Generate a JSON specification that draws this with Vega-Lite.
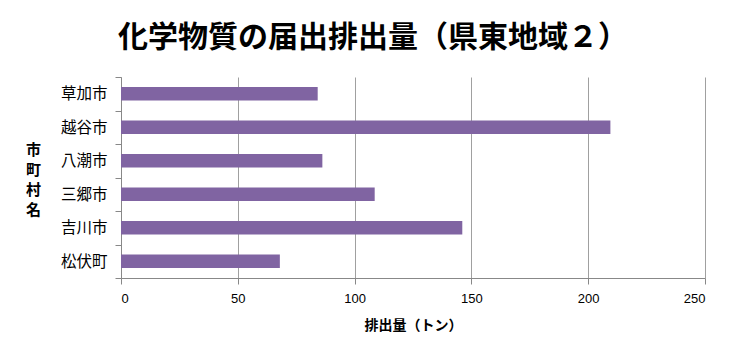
{
  "$schema": "https://vega.github.io/schema/vega-lite/v6.json",
  "width": 584,
  "height": 201,
  "autosize": {"type": "none"},
  "padding": {"left": 121, "top": 77, "right": 35, "bottom": 83},
  "background": "white",
  "title": {
    "text": "化学物質の届出排出量（県東地域２）",
    "font": "Noto Sans CJK JP",
    "fontSize": 30,
    "fontWeight": "bold",
    "color": "#000000",
    "anchor": "middle",
    "dx": -40,
    "offset": 17
  },
  "data": {
    "values": [
      {"city": "草加市", "amount": 84.2},
      {"city": "越谷市", "amount": 209.5},
      {"city": "八潮市", "amount": 86.2},
      {"city": "三郷市", "amount": 108.6},
      {"city": "吉川市", "amount": 146.1},
      {"city": "松伏町", "amount": 68.0}
    ]
  },
  "mark": {"type": "bar", "color": "#8064A2", "height": {"band": 0.4}},
  "encoding": {
    "y": {
      "field": "city",
      "type": "nominal",
      "sort": null,
      "scale": {"paddingInner": 0, "paddingOuter": 0},
      "axis": {
        "title": ["市", "町", "村", "名"],
        "titleAngle": 0,
        "titleFont": "Noto Sans CJK JP",
        "titleFontSize": 15,
        "titleFontWeight": "bold",
        "titleColor": "#000000",
        "titleLineHeight": 20,
        "titleAlign": "center",
        "titleBaseline": "middle",
        "titleX": -88,
        "titleY": 72,
        "labelFont": "Noto Sans CJK JP",
        "labelFontSize": 15.5,
        "labelColor": "#000000",
        "labelPadding": 8,
        "domainColor": "#888888",
        "tickColor": "#888888",
        "tickSize": 6,
        "tickBand": "extent",
        "grid": false
      }
    },
    "x": {
      "field": "amount",
      "type": "quantitative",
      "scale": {"domain": [0, 250], "nice": false},
      "axis": {
        "values": [0, 50, 100, 150, 200, 250],
        "title": "排出量（トン）",
        "titleFont": "Noto Sans CJK JP",
        "titleFontSize": 14,
        "titleFontWeight": "bold",
        "titleColor": "#000000",
        "titlePadding": 13,
        "labelFont": "Liberation Sans",
        "labelFontSize": 13,
        "labelColor": "#000000",
        "labelPadding": 8,
        "domainColor": "#888888",
        "tickColor": "#888888",
        "tickSize": 6,
        "grid": true,
        "gridColor": "#a0a0a0",
        "gridWidth": 1
      }
    }
  },
  "config": {"view": {"stroke": null}}
}
